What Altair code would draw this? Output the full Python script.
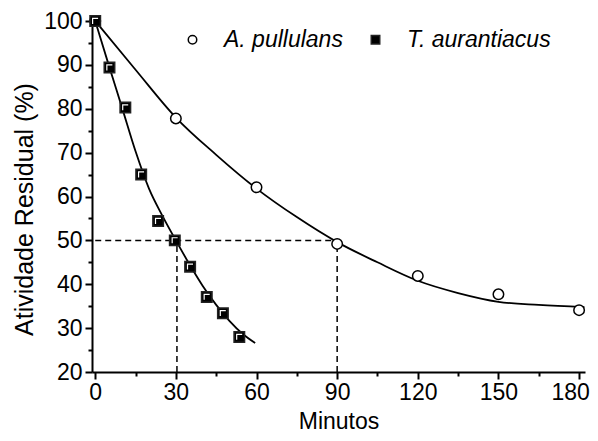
import altair as alt
import pandas as pd

# ---- data ----
series = ["A. pullulans", "T. aurantiacus"]

a_time = [0, 30, 60, 90, 120, 150, 180]
a_act = [100, 77.8, 62.1, 49.2, 41.9, 37.7, 34.1]

t_time = [0, 5.3, 11.2, 17.1, 23.4, 29.6, 35.3, 41.5, 47.5, 53.6]
t_act = [100, 89.4, 80.3, 65.0, 54.4, 50.0, 44.0, 37.1, 33.4, 28.0]

a_fit_time = [0, 15, 30, 45, 60, 75, 90, 105, 120, 135, 150, 165, 182]
a_fit_act = [100, 88.9, 78.0, 69.5, 61.8, 55.3, 49.6, 45.0, 40.8, 38.0, 36.0, 35.3, 34.8]

t_fit_time = [0, 5, 10, 15, 20, 25, 30, 35, 40, 45, 50, 55, 59.5]
t_fit_act = [100, 90.0, 80.2, 70.3, 61.8, 55.6, 50.0, 44.6, 39.6, 35.3, 31.6, 28.6, 26.6]

half_level = 50
half_times = [30.4, 90]

x_ticks = [0, 30, 60, 90, 120, 150, 180]
x_minor = [15, 45, 75, 105, 135, 165]
y_ticks = [20, 30, 40, 50, 60, 70, 80, 90, 100]
y_minor = [25, 35, 45, 55, 65, 75, 85, 95]
x_domain = [-1.2, 182.2]
y_domain = [20, 100]

FONT = "Liberation Sans"

pts = pd.DataFrame({
    "t": a_time + t_time,
    "act": a_act + t_act,
    "species": [series[0]] * len(a_time) + [series[1]] * len(t_time),
})
t_pts = pd.DataFrame({"t": t_time, "act": t_act})
fits = pd.DataFrame({
    "t": a_fit_time + t_fit_time,
    "act": a_fit_act + t_fit_act,
    "species": [series[0]] * len(a_fit_time) + [series[1]] * len(t_fit_time),
})
hline = pd.DataFrame({"t": [0, max(half_times)], "act": [half_level, half_level]})
vlines = pd.DataFrame({"t": half_times, "lo": [y_domain[0]] * 2, "hi": [half_level] * 2})

xs = alt.Scale(domain=x_domain, nice=False, zero=False)
ys = alt.Scale(domain=y_domain, nice=False, zero=False)

x_major = alt.Axis(values=x_ticks, orient="bottom", tickSize=7, labelPadding=2,
                   labelOffset={"condition": {"test": "datum.value == 180", "value": -9},
                                "value": 0},
                   title="Minutos", titleFontSize=23, titleFont=FONT,
                   titleFontWeight="normal", titleX=246.5, titleY=56,
                   titleBaseline="alphabetic", titleAlign="center")
y_major = alt.Axis(values=y_ticks, orient="left", tickSize=7, labelPadding=3,
                   title="Atividade Residual (%)", titleFontSize=25, titleFont=FONT,
                   titleFontWeight="normal", titleX=-60, titleY=188,
                   titleBaseline="alphabetic", titleAlign="center", titleAngle=-90)
x_min_ax = alt.Axis(values=x_minor, orient="bottom", tickSize=4, labels=False,
                    domain=False, title=None)
y_min_ax = alt.Axis(values=y_minor, orient="left", tickSize=4, labels=False,
                    domain=False, title=None)

fit_lines = alt.Chart(fits).mark_line(color="black", strokeWidth=1.8,
                                      interpolate="monotone").encode(
    x=alt.X("t:Q", scale=xs, axis=x_major),
    y=alt.Y("act:Q", scale=ys, axis=y_major),
    detail="species:N",
)

h_dash = alt.Chart(hline).mark_line(color="black", strokeWidth=1.5,
                                    strokeDash=[6, 4]).encode(
    x=alt.X("t:Q", scale=xs, axis=x_min_ax),
    y=alt.Y("act:Q", scale=ys, axis=y_min_ax),
)

v_dash = alt.Chart(vlines).mark_rule(color="black", strokeWidth=1.5,
                                     strokeDash=[6, 4]).encode(
    x=alt.X("t:Q", scale=xs, axis=None),
    y=alt.Y("lo:Q", scale=ys, axis=None),
    y2="hi:Q",
)

legend = alt.Legend(orient="none", legendX=89, legendY=7, direction="horizontal",
                    title=None, labelFont=FONT, labelFontSize=23,
                    labelFontStyle="italic", labelColor="black",
                    symbolSize=72, symbolStrokeWidth=1.5,
                    labelOffset=20, columnPadding=21)

points = alt.Chart(pts).mark_point(filled=True, strokeWidth=1.5,
                                   size=110, opacity=1).encode(
    x=alt.X("t:Q", scale=xs, axis=None),
    y=alt.Y("act:Q", scale=ys, axis=None),
    shape=alt.Shape("species:N", scale=alt.Scale(domain=series, range=["circle", "square"]),
                    legend=legend),
    fill=alt.Fill("species:N", scale=alt.Scale(domain=series, range=["white", "black"]),
                  legend=legend),
    stroke=alt.Stroke("species:N", scale=alt.Scale(domain=series, range=["black", "#222222"]),
                      legend=legend),
)

highlight = alt.Chart(t_pts).mark_point(
    shape="M -0.5 0.55 L -0.5 -0.5 L 0.55 -0.5", filled=False, stroke="white",
    strokeWidth=1.2, size=110, opacity=1).encode(
    x=alt.X("t:Q", scale=xs, axis=None),
    y=alt.Y("act:Q", scale=ys, axis=None),
)

chart = alt.layer(fit_lines, h_dash, v_dash, points, highlight).resolve_axis(
    x="independent", y="independent"
).properties(
    width=493, height=351,
    background="white",
    autosize=alt.AutoSizeParams(type="none"),
    padding={"left": 84, "top": 13, "right": 5, "bottom": 61},
).configure_view(stroke=None).configure_axis(
    grid=False, domainColor="black", domainWidth=2, tickColor="black", tickWidth=2,
    labelFont=FONT, labelFontSize=23, labelColor="black", titleColor="black",
)

chart.save("out.html", embed_options={"renderer": "svg", "actions": False})
